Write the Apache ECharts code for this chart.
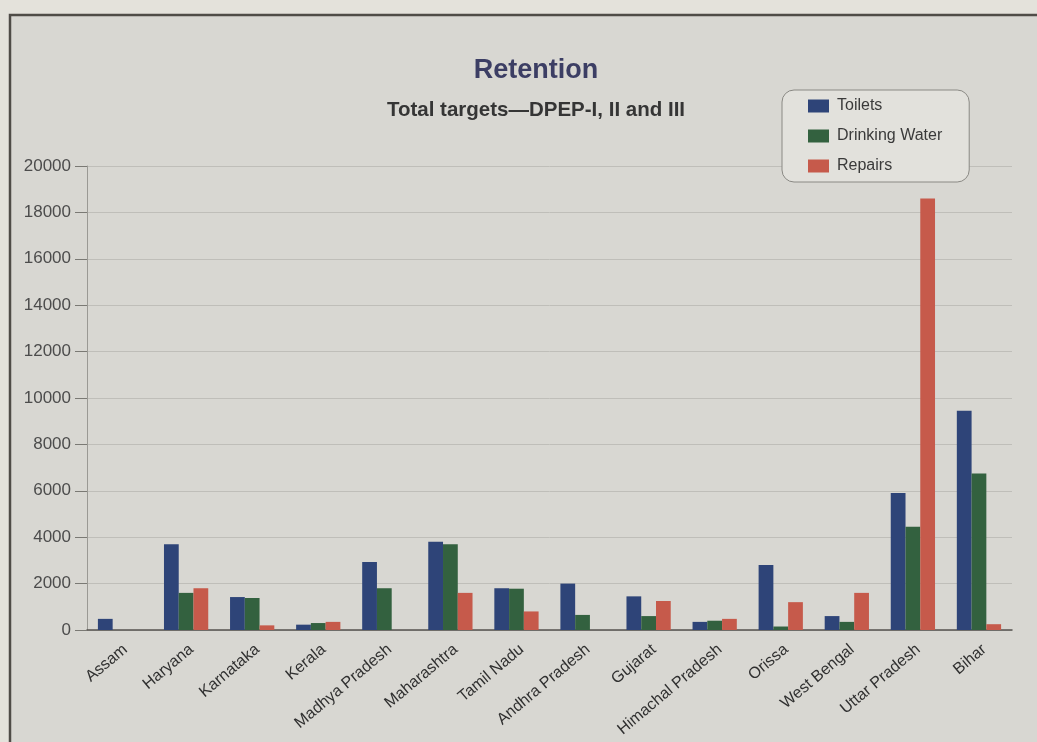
<!DOCTYPE html>
<html>
<head>
<meta charset="utf-8">
<title>Retention</title>
<script src="https://cdn.jsdelivr.net/npm/echarts@6/dist/echarts.min.js"></script>
<style>
  html, body { margin: 0; padding: 0; background: #e4e2db; }
  #chart { width: 1037px; height: 742px; }
</style>
</head>
<body>
<div id="chart"></div>
<script>
// States covered by the DPEP phases
const states = [
  'Assam', 'Haryana', 'Karnataka', 'Kerala', 'Madhya Pradesh', 'Maharashtra',
  'Tamil Nadu', 'Andhra Pradesh', 'Gujarat', 'Himachal Pradesh', 'Orissa',
  'West Bengal', 'Uttar Pradesh', 'Bihar'
];

// Total targets per state
const toilets       = [480, 3700, 1420, 230, 2930, 3800, 1800, 2000, 1450, 350, 2800, 600, 5900, 9450];
const drinkingWater = [0, 1600, 1380, 300, 1800, 3700, 1780, 650, 600, 400, 150, 350, 4450, 6750];
const repairs       = [0, 1800, 200, 350, 0, 1600, 800, 0, 1250, 480, 1200, 1600, 18600, 250];

// Value axis ticks
const yTicks = [0, 2000, 4000, 6000, 8000, 10000, 12000, 14000, 16000, 18000, 20000];

const FONT = '"Liberation Sans", Arial, sans-serif';

const chart = echarts.init(document.getElementById('chart'), null, { renderer: 'canvas' });

chart.setOption({
  backgroundColor: '#e4e2db',
  animation: false,
  textStyle: { fontFamily: FONT },
  graphic: [
    {
      type: 'rect',
      z: -10,
      silent: true,
      shape: { x: 10, y: 15, width: 1040, height: 740 },
      style: { fill: '#d8d7d2', stroke: '#4f4c47', lineWidth: 2.5 }
    }
  ],
  title: [
    {
      text: 'Retention',
      left: 536,
      textAlign: 'center',
      top: 57,
      padding: 0,
      textStyle: { fontFamily: FONT, fontSize: 27, fontWeight: 'bold', color: '#3c3e64' }
    },
    {
      text: 'Total targets\u2014DPEP-I, II and III',
      left: 536,
      textAlign: 'center',
      top: 100,
      padding: 0,
      textStyle: { fontFamily: FONT, fontSize: 20.5, fontWeight: 'bold', color: '#353535' }
    }
  ],
  legend: {
    orient: 'vertical',
    left: 782,
    top: 90,
    padding: [8, 27, 8, 26],
    itemGap: 14,
    itemWidth: 21,
    itemHeight: 13,
    icon: 'rect',
    backgroundColor: '#e2e1dc',
    borderColor: '#8a8984',
    borderWidth: 1,
    borderRadius: 12,
    textStyle: { fontFamily: FONT, fontSize: 16, color: '#3a3a3a', padding: [0, 0, 0, 3] },
    data: ['Toilets', 'Drinking Water', 'Repairs']
  },
  grid: { left: 87, right: 25, top: 166, bottom: 112, containLabel: false },
  xAxis: {
    type: 'category',
    data: states,
    axisTick: { show: false },
    axisLine: { lineStyle: { color: '#55534f', width: 1.5 } },
    axisLabel: {
      interval: 0,
      rotate: 40,
      margin: 22,
      padding: [0, -7, 0, 0],
      fontFamily: FONT,
      fontSize: 16,
      color: '#303030'
    }
  },
  yAxis: {
    type: 'value',
    min: yTicks[0],
    max: yTicks[yTicks.length - 1],
    interval: yTicks[1] - yTicks[0],
    axisLine: { show: true, lineStyle: { color: '#9a9994', width: 1 } },
    axisTick: { show: true, length: 12, lineStyle: { color: '#7a7974' } },
    axisLabel: {
      margin: 16,
      fontFamily: FONT,
      fontSize: 17,
      color: '#4c4c4c',
      formatter: (v) => String(v)
    },
    splitLine: { lineStyle: { color: '#bfbeb9', width: 1 } }
  },
  series: [
    {
      name: 'Toilets',
      type: 'bar',
      data: toilets,
      barGap: '0%',
      barCategoryGap: '33%',
      itemStyle: { color: '#2e4478' }
    },
    {
      name: 'Drinking Water',
      type: 'bar',
      data: drinkingWater,
      barGap: '0%',
      barCategoryGap: '33%',
      itemStyle: { color: '#33613f' }
    },
    {
      name: 'Repairs',
      type: 'bar',
      data: repairs,
      barGap: '0%',
      barCategoryGap: '33%',
      itemStyle: { color: '#c65a4b' }
    }
  ]
});
</script>
</body>
</html>
